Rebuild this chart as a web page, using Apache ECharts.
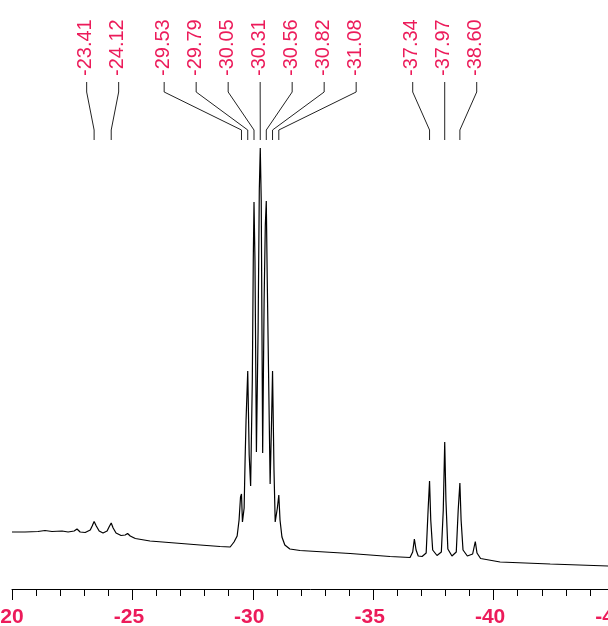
<!DOCTYPE html>
<html>
<head>
<meta charset="utf-8">
<script src="https://cdn.jsdelivr.net/npm/echarts@6/dist/echarts.min.js"></script>
<style>
  html, body { margin: 0; padding: 0; background: #fff; }
  #chart { width: 608px; height: 626px; }
</style>
</head>
<body>
<div id="chart"></div>
<script>
// chemical shift (ppm) of the traced spectrum points
const shift = [
  -20.00, -20.54, -21.08, -21.37, -21.66, -22.08, -22.33, -22.58, -22.70, -22.83,
  -23.04, -23.25, -23.33, -23.41, -23.50, -23.62, -23.78, -23.95, -24.03, -24.12,
  -24.20, -24.32, -24.53, -24.70, -24.80, -24.91, -25.12, -25.73, -26.77, -27.81,
  -28.64, -29.06, -29.22, -29.35, -29.43, -29.49, -29.53, -29.57, -29.64, -29.68,
  -29.72, -29.79, -29.85, -29.91, -29.98, -30.02, -30.05, -30.09, -30.15, -30.22,
  -30.27, -30.31, -30.35, -30.41, -30.47, -30.52, -30.56, -30.60, -30.72, -30.78,
  -30.82, -30.88, -30.93, -31.02, -31.08, -31.13, -31.21, -31.33, -31.54, -31.96,
  -34.04, -35.70, -36.53, -36.64, -36.71, -36.78, -36.87, -37.03, -37.20, -37.28,
  -37.34, -37.39, -37.47, -37.65, -37.83, -37.91, -37.97, -38.02, -38.10, -38.27,
  -38.45, -38.53, -38.60, -38.65, -38.73, -38.91, -39.13, -39.24, -39.31, -39.46,
  -40.27, -42.35, -44.76
];
// intensity (arbitrary units) at each point above
const intensity = [
  57, 57, 57.5, 58.5, 57.5, 58, 57, 58, 60, 57,
  56.5, 59, 63, 67.5, 63, 58, 56, 58, 62, 66,
  61, 56, 53.5, 54, 55.5, 53, 50.5, 48, 46, 44,
  42.5, 42, 47, 53, 69, 92, 95, 67, 81, 129,
  169, 218, 134, 103, 209, 329, 387, 329, 137, 259,
  399, 441, 389, 136, 289, 364, 388, 309, 105, 169,
  218, 119, 67, 81, 94, 69, 52, 44, 40, 38.5,
  35.5, 32.5, 31.5, 37, 50, 39, 33, 32.5, 36, 79,
  108, 69, 39, 33.5, 37, 79, 147, 89, 40, 33,
  37, 79, 106, 69, 39, 33, 35, 47.5, 36, 30.5,
  27, 25, 23
];
// picked peaks shown at the top
const peakShifts = [-23.41, -24.12, -29.53, -29.79, -30.05, -30.31, -30.56, -30.82, -31.08, -37.34, -37.97, -38.60];

const red = "#ec1b5a";

// group peaks that sit close together, labels get spread around the group centre
const groups = [];
peakShifts.forEach(function (p, i) {
  const last = groups[groups.length - 1];
  if (last && Math.abs(peakShifts[last[last.length - 1]] - p) < 1.5) {
    last.push(i);
  } else {
    groups.push([i]);
  }
});

const chart = echarts.init(document.getElementById("chart"));

const option = {
  animation: false,
  grid: {
    left: 12,
    right: -6,
    top: 89,
    bottom: 37,
    containLabel: false,
    outerBoundsMode: "none"
  },
  xAxis: {
    type: "value",
    inverse: true,
    min: -45,
    max: -20,
    interval: 5,
    axisLine: { lineStyle: { color: "#000", width: 1 } },
    axisTick: { length: 11, lineStyle: { color: "#000" } },
    minorTick: { show: true, splitNumber: 5, length: 7, lineStyle: { color: "#000" } },
    splitLine: { show: false },
    axisLabel: {
      color: red,
      fontFamily: "Liberation Sans, Arial",
      fontWeight: "bold",
      fontSize: 21,
      margin: 18,
      padding: [0, 7, 0, 0],
      showMinLabel: true,
      showMaxLabel: true
    }
  },
  yAxis: {
    type: "value",
    min: 0,
    max: 500,
    show: false
  },
  series: [
    {
      type: "line",
      data: shift.map(function (s, i) { return [s, intensity[i]]; }),
      showSymbol: false,
      lineStyle: { color: "#000", width: 1.2 },
      silent: true
    },
    {
      type: "custom",
      clip: false,
      silent: true,
      data: peakShifts.map(function (p) { return [p, 0]; }),
      renderItem: function (params, api) {
        const idx = params.dataIndex;
        const g = groups.find(function (gr) { return gr.indexOf(idx) >= 0; });
        const xs = g.map(function (k) { return api.coord([peakShifts[k], 0])[0]; });
        const centre = xs.reduce(function (a, b) { return a + b; }, 0) / xs.length;
        const pos = g.indexOf(idx);
        const lx = centre + (pos - (g.length - 1) / 2) * 32;
        const px = api.coord([peakShifts[idx], 0])[0];
        return {
          type: "group",
          children: [
            {
              type: "polyline",
              shape: { points: [[lx, 82], [lx, 92], [px, 130], [px, 140]] },
              style: { stroke: "#222", lineWidth: 1, fill: null }
            },
            {
              type: "text",
              x: lx - 1,
              y: 76,
              rotation: Math.PI / 2,
              style: {
                text: peakShifts[idx].toFixed(2),
                fill: red,
                font: "20px 'Liberation Sans', Arial",
                align: "left",
                verticalAlign: "middle"
              }
            }
          ]
        };
      }
    }
  ]
};

chart.setOption(option);
</script>
</body>
</html>
